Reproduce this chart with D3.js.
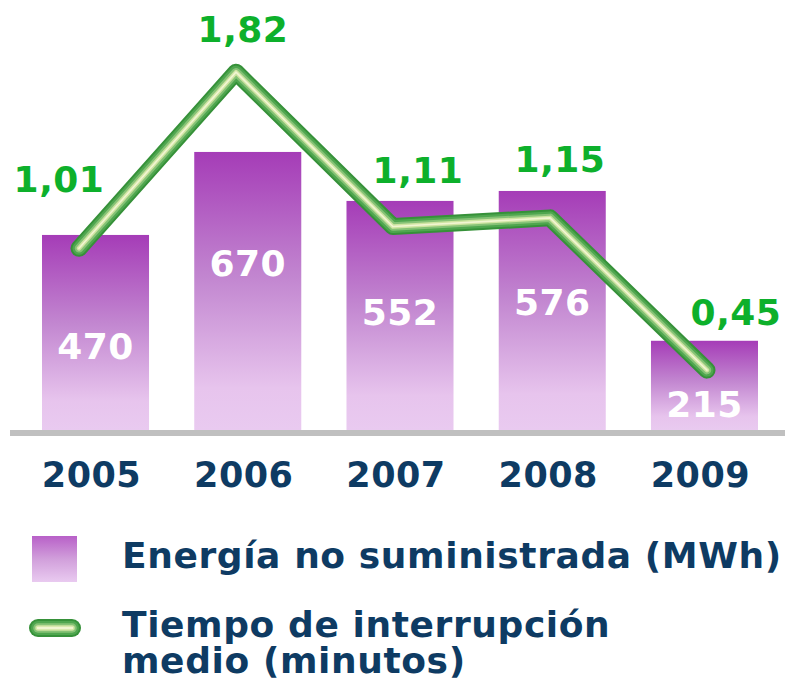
<!DOCTYPE html>
<html>
<head>
<meta charset="utf-8">
<script src="https://cdn.jsdelivr.net/npm/d3@7"></script>
<style>
  body { margin: 0; background: #fff; }
  text { font-family: "DejaVu Sans", Verdana, sans-serif; font-weight: bold; }
</style>
</head>
<body>
<div id="chart"></div>
<script>
// data
var years = ["2005", "2006", "2007", "2008", "2009"];
var energia = [470, 670, 552, 576, 215];          // MWh
var tiempo = [1.01, 1.82, 1.11, 1.15, 0.45];      // minutos
var tiempoLabels = ["1,01", "1,82", "1,11", "1,15", "0,45"];
var legendLabels = ["Energía no suministrada (MWh)", ["Tiempo de interrupción", "medio (minutos)"]];

// hand placement of the green value labels, relative to each line point
var labelNudge = [[-20, -56], [7, -30], [25, -44], [10, -46], [29, -45]];

var w = 785, h = 684;
var navy = "#0e3b63";
var green = "#0db02b";

var svg = d3.select("#chart").append("svg")
    .attr("width", w)
    .attr("height", h);

var defs = svg.append("defs");

function addGradient(id, stops) {
    var g = defs.append("linearGradient")
        .attr("id", id)
        .attr("x1", 0).attr("y1", 0)
        .attr("x2", 0).attr("y2", 1);
    stops.forEach(function(s) {
        g.append("stop").attr("offset", s[0]).attr("stop-color", s[1]);
    });
}
addGradient("barGrad", [[0, "#a53cb7"], [0.45, "#c286d0"], [0.85, "#e7c4ed"], [1, "#e9caf0"]]);
addGradient("legGrad", [[0, "#b860c8"], [0.5, "#d19fdb"], [1, "#e9caf0"]]);

// scales
var x = d3.scaleBand().domain(years).range([42, 758]).paddingInner(0.297).paddingOuter(0);
var xLine = d3.scalePoint().domain(years).range([79, 707]).padding(0);
var yBar = d3.scaleLinear().domain([0, 1000]).range([430, 15]);
var yLine = d3.scaleLinear().domain([0, 2]).range([468, 33]);

var bars = years.map(function(d, i) { return {year: d, value: energia[i]}; });
var points = years.map(function(d, i) { return {year: d, value: tiempo[i], label: tiempoLabels[i], i: i}; });

// bars
svg.append("g")
    .selectAll("rect")
    .data(bars)
    .enter()
    .append("rect")
    .attr("x", function(d) { return x(d.year); })
    .attr("y", function(d) { return yBar(d.value); })
    .attr("width", x.bandwidth())
    .attr("height", function(d) { return yBar(0) - yBar(d.value); })
    .attr("fill", "url(#barGrad)");

// baseline
svg.append("rect")
    .attr("x", 10)
    .attr("y", yBar(0))
    .attr("width", w - 10)
    .attr("height", 6)
    .attr("fill", "#c0c0c0");

// bar values
svg.append("g")
    .selectAll("text")
    .data(bars)
    .enter()
    .append("text")
    .attr("x", function(d) { return x(d.year) + x.bandwidth() / 2; })
    .attr("y", function(d) { return Math.min(yBar(d.value) + 124, yBar(0) - 13); })
    .attr("text-anchor", "middle")
    .attr("font-size", 36)
    .attr("letter-spacing", 0.5)
    .attr("fill", "#fff")
    .text(function(d) { return d.value; });

// years
svg.append("g")
    .selectAll("text")
    .data(years)
    .enter()
    .append("text")
    .attr("x", function(d) { return x(d) + x.bandwidth() / 2 - 4; })
    .attr("y", 487)
    .attr("text-anchor", "middle")
    .attr("font-size", 35)
    .attr("letter-spacing", 0.5)
    .attr("fill", navy)
    .text(function(d) { return d; });

// the green "tube" line, built from stacked strokes
var tube = [[17, "#369139"], [13, "#4fa64f"], [8.5, "#86c276"], [4.5, "#cfe4a2"], [1.6, "#f1f5d2"]];

var line = d3.line()
    .x(function(d) { return xLine(d.year); })
    .y(function(d) { return yLine(d.value); });

var lineG = svg.append("g");
tube.forEach(function(t) {
    lineG.append("path")
        .datum(points)
        .attr("d", line)
        .attr("fill", "none")
        .attr("stroke", t[1])
        .attr("stroke-width", t[0])
        .attr("stroke-linejoin", "round")
        .attr("stroke-linecap", "round");
});

// line values
svg.append("g")
    .selectAll("text")
    .data(points)
    .enter()
    .append("text")
    .attr("x", function(d) { return xLine(d.year) + labelNudge[d.i][0]; })
    .attr("y", function(d) { return yLine(d.value) + labelNudge[d.i][1]; })
    .attr("text-anchor", "middle")
    .attr("font-size", 36)
    .attr("letter-spacing", 0.5)
    .attr("fill", green)
    .text(function(d) { return d.label; });

// legend
var legend = svg.append("g");

legend.append("rect")
    .attr("x", 32)
    .attr("y", 536)
    .attr("width", 45)
    .attr("height", 46)
    .attr("fill", "url(#legGrad)");

legend.append("text")
    .attr("x", 122)
    .attr("y", 568)
    .attr("font-size", 36)
    .attr("letter-spacing", 0.6)
    .attr("fill", navy)
    .text(legendLabels[0]);

tube.forEach(function(t) {
    legend.append("line")
        .attr("x1", 38).attr("x2", 72)
        .attr("y1", 628).attr("y2", 628)
        .attr("stroke", t[1])
        .attr("stroke-width", t[0] + 1)
        .attr("stroke-linecap", "round");
});

legend.selectAll("text.second")
    .data(legendLabels[1])
    .enter()
    .append("text")
    .attr("class", "second")
    .attr("x", 122)
    .attr("y", function(d, i) { return 637 + i * 36; })
    .attr("font-size", 36)
    .attr("letter-spacing", 0.6)
    .attr("fill", navy)
    .text(function(d) { return d; });
</script>
</body>
</html>
